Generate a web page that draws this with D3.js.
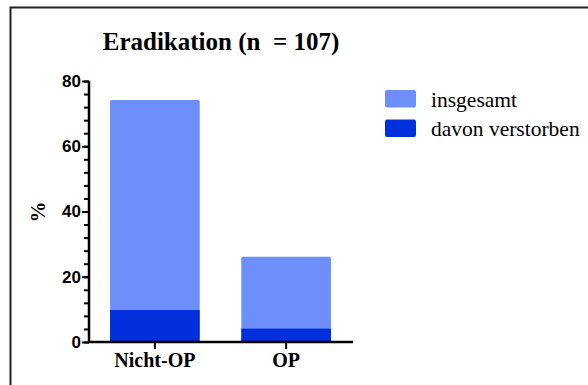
<!DOCTYPE html>
<html>
<head>
<meta charset="utf-8">
<script src="https://cdnjs.cloudflare.com/ajax/libs/d3/7.8.5/d3.min.js"></script>
<style>
  body { margin: 0; background: #fff; }
  svg { display: block; }
</style>
</head>
<body>
<div id="chart"></div>
<script>
// data
let categories = ["Nicht-OP", "OP"];
let insgesamt = [74.2, 26.1];
let verstorben = [9.8, 4.1];
let seriesNames = ["insgesamt", "davon verstorben"];
let yTicks = [0, 20, 40, 60, 80];

let colLight = "rgb(110,143,250)";
let colDark = "rgb(0,48,220)";
let serif = "Liberation Serif";
let sans = "Liberation Sans";

let svg = d3.select('#chart')
    .append('svg')
    .attr('width', 588)
    .attr('height', 385);

// frame (left + top only visible)
svg.append('path')
    .attr('d', 'M10.5,385V7.5H588')
    .attr('fill', 'none')
    .attr('stroke', '#222')
    .attr('stroke-width', 2);

let x = d3.scaleBand()
    .domain(categories)
    .range([88, 353])
    .paddingInner(0.317)
    .paddingOuter(0.168);

let y = d3.scaleLinear()
    .domain([0, 80])
    .range([342, 81]);

// bars
svg.selectAll('.tot')
    .data(categories)
    .enter().append('rect')
    .attr('class', 'tot')
    .attr('x', d => x(d))
    .attr('width', x.bandwidth())
    .attr('y', (d, i) => y(insgesamt[i]))
    .attr('height', (d, i) => y(0) - y(insgesamt[i]))
    .attr('rx', 1.5)
    .attr('fill', colLight);

svg.selectAll('.dead')
    .data(categories)
    .enter().append('rect')
    .attr('class', 'dead')
    .attr('x', d => x(d))
    .attr('width', x.bandwidth())
    .attr('y', (d, i) => y(verstorben[i]))
    .attr('height', (d, i) => y(0) - y(verstorben[i]))
    .attr('fill', colDark);

// y axis: minor ticks every 4
let yMinor = d3.axisLeft(y)
    .tickValues(d3.range(0, 81, 4))
    .tickSize(5)
    .tickFormat('');
svg.append('g')
    .attr('transform', 'translate(89,0)')
    .call(yMinor)
    .call(g => g.select('.domain').remove())
    .selectAll('line').attr('stroke', '#000').attr('stroke-width', 2);

let yAxis = d3.axisLeft(y)
    .tickValues(yTicks)
    .tickSize(7)
    .tickPadding(1);
let gy = svg.append('g')
    .attr('transform', 'translate(89,0)')
    .call(yAxis)
    .attr('font-family', sans)
    .attr('font-size', 17)
    .attr('font-weight', 'bold');
gy.select('.domain').attr('stroke', '#000').attr('stroke-width', 2.5)
    .attr('d', 'M0,' + (y(0) + 1) + 'V' + y(80));
gy.selectAll('line').attr('stroke', '#000').attr('stroke-width', 2);
gy.selectAll('text').attr('fill', '#000');

// x axis
let xAxis = d3.axisBottom(x)
    .tickSize(7)
    .tickPadding(4);
let gx = svg.append('g')
    .attr('transform', 'translate(0,' + y(0) + ')')
    .call(xAxis)
    .attr('font-family', serif)
    .attr('font-size', 20)
    .attr('font-weight', 'bold');
gx.select('.domain').attr('stroke', '#000').attr('stroke-width', 2.5)
    .attr('d', 'M88,0H353');
gx.selectAll('line').attr('stroke', '#000').attr('stroke-width', 2);
gx.selectAll('text').attr('fill', '#000');

// title
svg.append('text')
    .attr('x', 221)
    .attr('y', 50)
    .attr('text-anchor', 'middle')
    .attr('font-family', serif)
    .attr('font-weight', 'bold')
    .attr('font-size', 25)
    .style('white-space', 'pre')
    .text('Eradikation (n  = 107)');

// y label
svg.append('text')
    .attr('transform', 'translate(45,212) rotate(-90)')
    .attr('text-anchor', 'middle')
    .attr('font-family', serif)
    .attr('font-weight', 'bold')
    .attr('font-size', 21)
    .text('%');

// legend
let legend = svg.selectAll('.leg')
    .data(seriesNames)
    .enter().append('g')
    .attr('class', 'leg')
    .attr('transform', (d, i) => 'translate(385,' + (90 + i * 29.5) + ')');
legend.append('rect')
    .attr('width', 31)
    .attr('height', 17.5)
    .attr('rx', 2)
    .attr('fill', (d, i) => i === 0 ? colLight : colDark);
legend.append('text')
    .attr('x', 46)
    .attr('y', 16.5)
    .attr('font-family', serif)
    .attr('font-size', 21.5)
    .text(d => d);
</script>
</body>
</html>
